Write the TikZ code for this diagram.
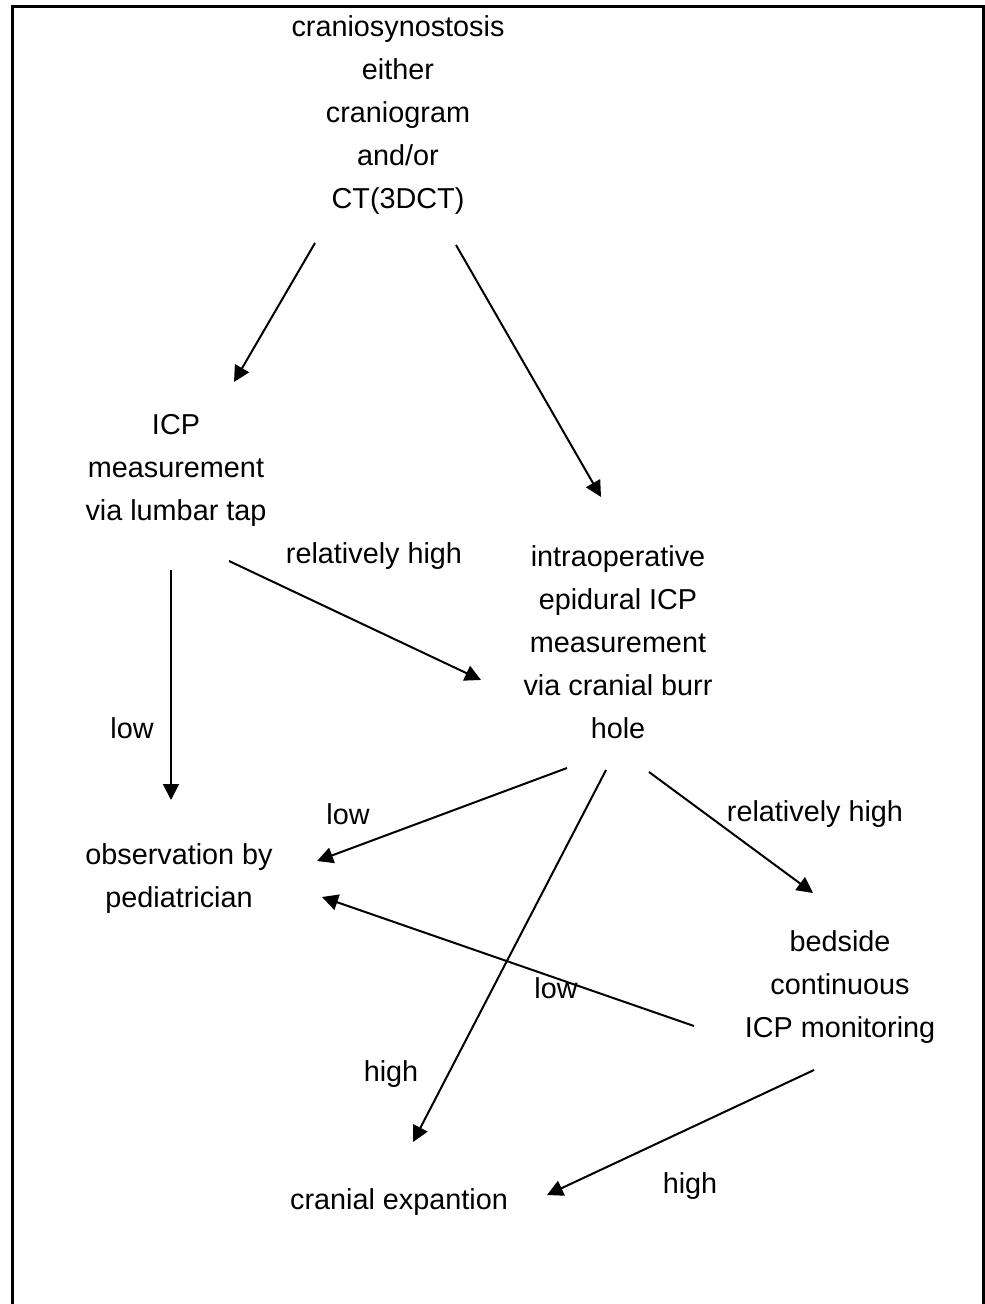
\documentclass[tikz,border=0pt]{standalone}
\usepackage{fontspec}
\setmainfont{Liberation Sans}
\usetikzlibrary{arrows.meta,calc}

\begin{document}
\begin{tikzpicture}[x=0.5pt,y=-0.5pt,
 txt/.style={align=center,inner sep=0pt,font=\fontsize{14.4}{21.5}\selectfont},
 lbl/.style={inner sep=0pt,font=\fontsize{14.4}{21.5}\selectfont},
 arr/.style={-{Triangle[length=8pt,width=8pt]},line width=1pt}]
\useasboundingbox (0,0) rectangle (984,1304);
\draw[line width=1.5pt] (12,1320)--(12,7)--(983,7)--(983,1320);

\node[txt] (ct) at (398,115) {craniosynostosis\\either\\craniogram\\and/or\\CT(3DCT)};
\node[txt] (lumbar) at (176,470) {ICP\\measurement\\via lumbar tap};
\node[txt] (burr) at (618,642) {intraoperative\\epidural ICP\\measurement\\via cranial burr\\hole};
\node[txt] (obs) at (179,879) {observation by\\pediatrician};
\node[txt] (bedside) at (840,987) {bedside\\continuous\\ICP monitoring};
\node[txt] (exp) at (399,1202) {cranial expantion};

\node[lbl] (l1) at (374,556) {relatively high};
\node[lbl] (l2) at (132,728) {low};
\node[lbl] (l3) at (348,814) {low};
\node[lbl] (l4) at (815,814) {relatively high};
\node[lbl] (l5) at (556,988) {low};
\node[lbl] (l6) at (391,1074) {high};
\node[lbl] (l7) at (690,1186) {high};

\draw[arr] ($(ct)+(-83,128)$)--($(lumbar)+(58,-88)$);
\draw[arr] ($(ct)+(58,130)$)--($(burr)+(-17,-145)$);
\draw[arr] ($(lumbar)+(-5,100)$)--($(obs)+(-8,-79)$);
\draw[arr] ($(lumbar)+(53,91)$)--($(burr)+(-137,38)$);
\draw[arr] ($(burr)+(-51,126)$)--($(obs)+(138,-18)$);
\draw[arr] ($(burr)+(-12,128)$)--($(exp)+(14,-60)$);
\draw[arr] ($(burr)+(31,130)$)--($(bedside)+(-27,-94)$);
\draw[arr] ($(bedside)+(-146,39)$)--($(obs)+(143,18)$);
\draw[arr] ($(bedside)+(-26,83)$)--($(exp)+(148,-7)$);
\end{tikzpicture}
\end{document}
